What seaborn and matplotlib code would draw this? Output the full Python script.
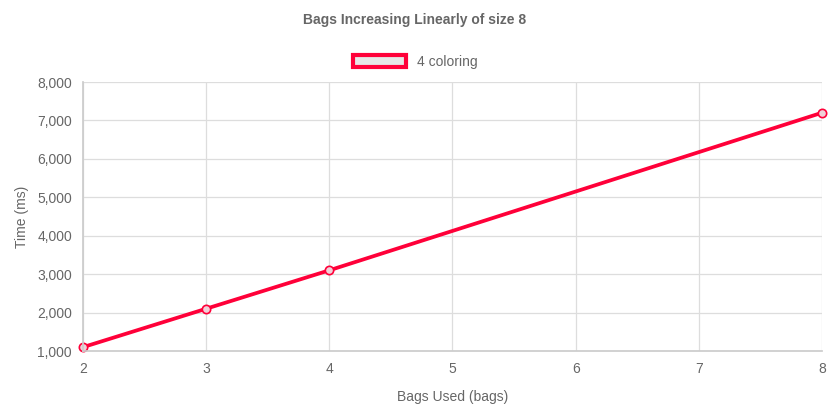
import numpy as np
import pandas as pd
import matplotlib
matplotlib.use("Agg")
import matplotlib.pyplot as plt
import seaborn as sns
from matplotlib.patches import Patch
from matplotlib.ticker import FuncFormatter

bags = [2, 3, 4, 8]
time_ms = [1100, 2100, 3100, 7200]
series_name = "4 coloring"

df = pd.DataFrame({"bags": bags, "time": time_ms})

sns.set_theme(style="whitegrid")
plt.rcParams["font.family"] = ["Liberation Sans", "DejaVu Sans"]

fig = plt.figure(figsize=(8.3, 4.15), dpi=100)
ax = fig.add_axes([83 / 830, 1 - 351 / 415, 739 / 830, 269 / 415])

red = "#ff0039"
sns.lineplot(data=df, x="bags", y="time", ax=ax, color=red, linewidth=2.7,
             marker="o", markersize=6, markerfacecolor="#f0d0d8",
             markeredgecolor=red, markeredgewidth=1.2, clip_on=False)

ax.set_xlim(2, 8)
ax.set_ylim(1000, 8000)
ax.set_xticks(range(2, 9))
ax.set_yticks(range(1000, 8001, 1000))
ax.yaxis.set_major_formatter(FuncFormatter(lambda v, p: f"{int(v):,}"))
ax.grid(True, color="#dddddd", linewidth=0.9)
for s in ax.spines.values():
    s.set_visible(False)
ax.spines["left"].set_visible(True)
ax.spines["bottom"].set_visible(True)
ax.spines["left"].set_color("#cccccc")
ax.spines["bottom"].set_color("#cccccc")
ax.tick_params(colors="#666666", labelsize=10, length=0, pad=8)
ax.set_xlabel("Bags Used (bags)", color="#666666", fontsize=10, labelpad=10)
ax.set_ylabel("Time (ms)", color="#666666", fontsize=10, labelpad=6)

fig.text(0.5, 1 - 20 / 415, "Bags Increasing Linearly of size 8", ha="center",
         va="center", fontsize=10, fontweight="bold", color="#666666")
handle = Patch(facecolor="#e6e6e6", edgecolor=red, linewidth=3)
fig.legend(handles=[handle], labels=[series_name], loc="center",
           bbox_to_anchor=(0.5, 1 - 62 / 415), frameon=False, fontsize=10,
           labelcolor="#666666", handlelength=3.8, handleheight=1.0)

plt.savefig("out.png", dpi=100)
plt.close()
